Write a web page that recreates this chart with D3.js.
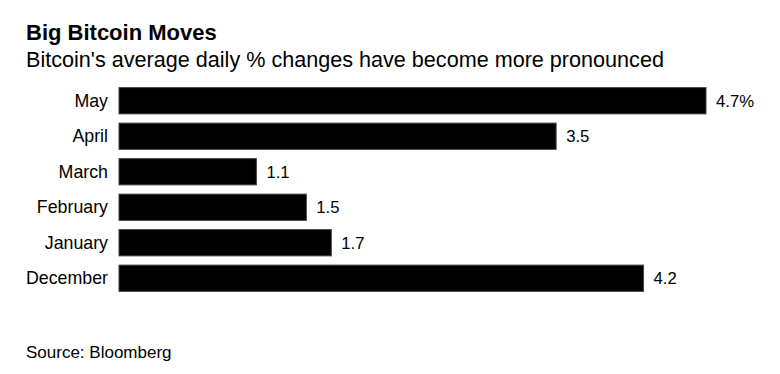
<!DOCTYPE html>
<html>
<head>
<meta charset="utf-8">
<script src="https://cdn.jsdelivr.net/npm/d3@7"></script>
<style>
  body { margin: 0; background: #fff; }
  text { font-family: "Liberation Sans", Arial, sans-serif; fill: #000; }
</style>
</head>
<body>
<div id="chart"></div>
<script>
var months = ["May", "April", "March", "February", "January", "December"];
var changes = [4.7, 3.5, 1.1, 1.5, 1.7, 4.2];
var valueLabels = ["4.7%", "3.5", "1.1", "1.5", "1.7", "4.2"];

var width = 780;
var height = 374;

var svg = d3.select("#chart")
  .append("svg")
  .attr("width", width)
  .attr("height", height);

svg.append("text")
  .attr("x", 26)
  .attr("y", 40)
  .style("font-size", "22px")
  .style("font-weight", "bold")
  .text("Big Bitcoin Moves");

svg.append("text")
  .attr("x", 26)
  .attr("y", 67)
  .style("font-size", "21.6px")
  .text("Bitcoin's average daily % changes have become more pronounced");

var x = d3.scaleLinear()
  .domain([0, 4.7])
  .range([119, 706]);

var y = d3.scaleBand()
  .domain(months)
  .range([83, 296])
  .paddingInner(0.26)
  .paddingOuter(0.13);

// category labels
svg.selectAll(".cat")
  .data(months)
  .enter()
  .append("text")
  .attr("class", "cat")
  .attr("x", 108)
  .attr("y", function(d) { return y(d) + y.bandwidth() / 2; })
  .attr("dy", "0.35em")
  .attr("text-anchor", "end")
  .style("font-size", "17.8px")
  .text(function(d) { return d; });

svg.selectAll(".bar")
  .data(changes)
  .enter()
  .append("rect")
  .attr("class", "bar")
  .attr("x", x(0))
  .attr("y", function(d, i) { return y(months[i]); })
  .attr("width", function(d) { return x(d) - x(0); })
  .attr("height", y.bandwidth())
  .style("fill", "#000")
  .style("stroke", "#444")
  .style("stroke-width", 1);

svg.selectAll(".val")
  .data(changes)
  .enter()
  .append("text")
  .attr("class", "val")
  .attr("x", function(d) { return x(d) + 10; })
  .attr("y", function(d, i) { return y(months[i]) + y.bandwidth() / 2; })
  .attr("dy", "0.35em")
  .style("font-size", "16.7px")
  .text(function(d, i) { return valueLabels[i]; });

svg.append("text")
  .attr("x", 26)
  .attr("y", 358)
  .style("font-size", "17px")
  .text("Source: Bloomberg");
</script>
</body>
</html>
